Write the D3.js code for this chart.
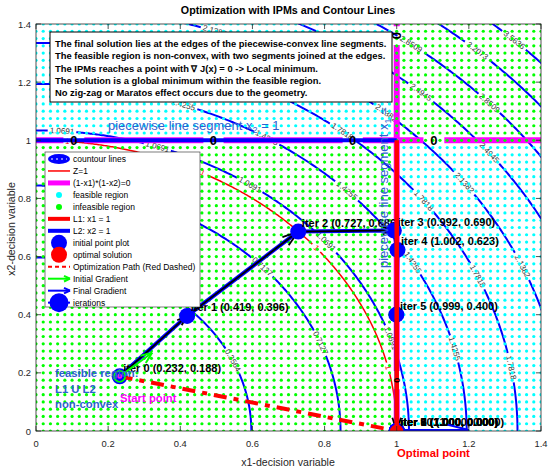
<!DOCTYPE html>
<html><head><meta charset="utf-8">
<script src="https://cdn.jsdelivr.net/npm/d3@7"></script>
<style>body{margin:0;background:#fff} text{font-family:"Liberation Sans",Arial,Helvetica,sans-serif}</style>
</head><body><svg id="c" width="550" height="469"></svg>
<script>
// ---------------- data ----------------
const contourLevels = [0.3564, 0.7127, 1.0691, 1.4255, 1.7818, 2.1382, 2.4945, 2.8509, 3.2073, 3.5636];
const contourLabelAngles = [[24,56],[63,42,21],[86,71,55,39,18],[84,70,57.6,43.8,29,13.7],[64,50.5,36.4,23.5,9.4],[70.2,59,48.4,35.7,22.8],[58,47.5,37.3],[52,41.9],[46.9],[45.4]];
const zLevel = 1;
const zLabelAngles = [85, 62.5, 39, 12.6];
const boundaryLabelsX2 = [0.105, 0.492, 0.878, 1.103];   // "0" labels on x2 = 1
const boundaryLabelsX1 = [1.36, 0.175];                  // "0" labels on x1 = 1
const iterX = [0.232, 0.419, 0.727, 0.992, 1.002, 0.999, 1.000, 1.000, 1.000, 1.000, 1.000];
const iterY = [0.188, 0.396, 0.686, 0.690, 0.623, 0.400, 0.000, 0.000, 0.000, 0.000, 0.000];
const startPoint = [0.232, 0.188];
const optimalPoint = [1.0, 0.0];
const initialGradient = [0.232, 0.188, 0.322, 0.269];
const finalGradient = [1.0, 0.0, 1.2, 0.0];
const xTicks = [0, 0.2, 0.4, 0.6, 0.8, 1, 1.2, 1.4];
const yTicks = [0, 0.2, 0.4, 0.6, 0.8, 1, 1.2, 1.4];
const xTickLabels = ["0","0.2","0.4","0.6","0.8","1","1.2","1.4"];
const yTickLabels = ["0","0.2","0.4","0.6","0.8","1","1.2","1.4"];
const legendLabels = ["countour lines","Z=1","(1-x1)*(1-x2)=0","feasible region","infeasible region","L1: x1 = 1","L2: x2 = 1","initial point plot","optimal solution","Optimization Path (Red Dashed)","Initial Gradient","Final Gradient","ierations"];
const noteLines = ["The final solution lies at the edges of the piecewise-convex line segments.",
 "The feasible region is non-convex, with two segments joined at the edges.",
 "The IPMs reaches a point with \u2207 J(x) = 0 -> Local minimum.",
 "The solution is a global minimum within the feasible region.",
 "No zig-zag or Maratos effect occurs due to the geometry."];
const regionNote = ["feasible region:", "L1 U L2", "non-convex"];
const titleText = "Optimization with IPMs and Contour Lines";

// ---------------- setup ----------------
const svg = d3.select('#c');
const L=36, R=541, T=24, B=431;
const x = d3.scaleLinear().domain([0,1.4]).range([L,R]);
const y = d3.scaleLinear().domain([0,1.4]).range([B,T]);
const kx = (R-L)/1.4, ky = (B-T)/1.4;
svg.append('defs').append('clipPath').attr('id','clip').append('rect')
  .attr('x',L).attr('y',T).attr('width',R-L).attr('height',B-T);
const plot = svg.append('g').attr('clip-path','url(#clip)');
const rad = Math.PI/180;
const lineGen = d3.line().x(d=>x(d[0])).y(d=>y(d[1])).defined(d=>d[2]);
const fmt4 = d3.format('.4f'), fmt3 = d3.format('.3f');

function arcWithLabels(level, angles, gap){
  const r = Math.sqrt(level);
  const labs = angles.map(a=>{const t=a*rad; return {px:x(r*Math.cos(t)), py:y(r*Math.sin(t)),
     rot:Math.atan2(ky*Math.cos(t), kx*Math.sin(t))/rad};});
  const pts = d3.range(0,90.01,0.2).map(a=>{const t=a*rad; const u=r*Math.cos(t), v=r*Math.sin(t);
     return [u,v,labs.every(l=>Math.hypot(x(u)-l.px,y(v)-l.py)>gap)];});
  return {pts, labs};
}

// contours of J
contourLevels.forEach((lev,i)=>{
  const {pts,labs} = arcWithLabels(lev, contourLabelAngles[i], 14);
  plot.append('path').attr('d',lineGen(pts)).attr('fill','none').attr('stroke','#0000ff').attr('stroke-width',2);
  labs.forEach(l=>plot.append('text').attr('transform',`translate(${l.px},${l.py}) rotate(${l.rot})`)
    .attr('text-anchor','middle').attr('dominant-baseline','central').attr('font-size',8).attr('fill','#333').text(fmt4(lev)));
});
// Z = 1
{
  const {pts,labs} = arcWithLabels(zLevel, zLabelAngles, 5);
  plot.append('path').attr('d',lineGen(pts)).attr('fill','none').attr('stroke','#ff0000').attr('stroke-width',1.5);
  labs.forEach(l=>plot.append('text').attr('transform',`translate(${l.px},${l.py}) rotate(${l.rot})`)
    .attr('text-anchor','middle').attr('dominant-baseline','central').attr('font-size',8).attr('fill','#ff0000').text(String(zLevel)));
}
// (1-x1)(1-x2)=0 boundary lines (magenta)
{
  const hp = d3.range(0,1.4001,0.002).map(u=>[u,1,boundaryLabelsX2.every(b=>Math.abs(x(u)-x(b))>10)]);
  const vp = d3.range(0,1.4001,0.002).map(v=>[1,v,boundaryLabelsX1.every(b=>Math.abs(y(v)-y(b))>9)]);
  [hp,vp].forEach(p=>plot.append('path').attr('d',lineGen(p)).attr('fill','none').attr('stroke','#ff00ff').attr('stroke-width',6));
}
// feasible / infeasible dots
{
  const gx = d3.range(0,1.4001,0.02), gy = d3.range(0,1.4001,0.025);
  const g = plot.append('g');
  gy.forEach(v=>gx.forEach(u=>{
    const feas = (1-u)*(1-v) < 0;
    g.append('circle').attr('cx',x(u)).attr('cy',y(v)).attr('r',1.6).attr('fill',feas?'#00ffff':'#00ff00');
  }));
}
// blue L2 line
plot.append('line').attr('x1',x(0)).attr('x2',x(1)).attr('y1',y(1)).attr('y2',y(1)).attr('stroke','#0000ff').attr('stroke-width',4);

// arrow helper
function arrow(g, x0,y0,x1,y1,color,w,ratio,ang){
  g.append('line').attr('x1',x0).attr('y1',y0).attr('x2',x1).attr('y2',y1).attr('stroke',color).attr('stroke-width',w);
  const len = Math.hypot(x1-x0,y1-y0)*ratio, a=Math.atan2(y1-y0,x1-x0);
  [-ang,ang].forEach(s=>g.append('line').attr('x1',x1).attr('y1',y1)
    .attr('x2',x1-len*Math.cos(a+s*rad)).attr('y2',y1-len*Math.sin(a+s*rad)).attr('stroke',color).attr('stroke-width',w));
}

// iterations path
const iterPts = iterX.map((v,i)=>[v,iterY[i]]);
plot.append('path').attr('d',d3.line().x(d=>x(d[0])).y(d=>y(d[1]))(iterPts)).attr('fill','none').attr('stroke','#0000ff').attr('stroke-width',4);
const ag = plot.append('g');
for(let i=0;i<iterPts.length-1;i++){
  const a=iterPts[i], b=iterPts[i+1];
  if(a[0]===b[0]&&a[1]===b[1]) continue;
  arrow(ag,x(a[0]),y(a[1]),x(b[0]),y(b[1]),'#000',1.8,0.12,18);
}
const tg = svg.append('g');
iterPts.forEach((p,i)=>{
  plot.append('circle').attr('cx',x(p[0])).attr('cy',y(p[1])).attr('r',8).attr('fill','#0000ff');
  plot.append('text').attr('x',x(p[0]+0.01)).attr('y',y(p[1]+0.03)).attr('dominant-baseline','central')
    .attr('font-size',11).attr('font-weight','bold').attr('fill','#000')
    .text(`iter ${i} (${fmt3(p[0])}, ${fmt3(p[1])})`);
});
// red L1 line
plot.append('line').attr('x1',x(1)).attr('x2',x(1)).attr('y1',y(0)).attr('y2',y(1)).attr('stroke','#ff0000').attr('stroke-width',4.5);
// boundary labels "0"
boundaryLabelsX2.forEach(b=>plot.append('text').attr('x',x(b)).attr('y',y(1)).attr('text-anchor','middle').attr('dominant-baseline','central')
  .attr('font-size',13).attr('font-weight','bold').attr('fill','#000').text('0'));
boundaryLabelsX1.forEach((b,i)=>plot.append('text').attr('transform',`translate(${x(1)},${y(b)}) rotate(-90)`).attr('text-anchor','middle').attr('dominant-baseline','central')
  .attr('font-size',i===0?13:9).attr('font-weight','bold').attr('fill','#000').text('0'));

// optimization path (red dashed)
plot.append('line').attr('x1',x(startPoint[0])).attr('y1',y(startPoint[1])).attr('x2',x(optimalPoint[0])).attr('y2',y(optimalPoint[1]))
  .attr('stroke','#ff0000').attr('stroke-width',4).attr('stroke-dasharray','13,7,5,7');
// gradients
arrow(plot, x(initialGradient[0]),y(initialGradient[1]),x(initialGradient[2]),y(initialGradient[3]),'#00ff00',2,0.3,22);
arrow(plot, x(finalGradient[0]),y(finalGradient[1])-1,x(finalGradient[2]),y(finalGradient[3])-1,'#0000ff',2,0.3,14);
// start point decorations
plot.append('circle').attr('cx',x(startPoint[0])).attr('cy',y(startPoint[1])).attr('r',5.5).attr('fill','#0000ff').attr('stroke','#00ff00').attr('stroke-width',1.8);
plot.append('circle').attr('cx',x(startPoint[0])).attr('cy',y(startPoint[1])).attr('r',2.5).attr('fill','#ff00ff');
// optimal point
plot.append('circle').attr('cx',x(optimalPoint[0])).attr('cy',y(optimalPoint[1])).attr('r',6.5).attr('fill','#ff0000');

// axes box and ticks
const axc = '#262626';
svg.append('rect').attr('x',L).attr('y',T).attr('width',R-L).attr('height',B-T).attr('fill','none').attr('stroke',axc).attr('stroke-width',0.8);
xTicks.forEach((t,i)=>{
  svg.append('line').attr('x1',x(t)).attr('x2',x(t)).attr('y1',B).attr('y2',B-5).attr('stroke',axc).attr('stroke-width',0.8);
  svg.append('line').attr('x1',x(t)).attr('x2',x(t)).attr('y1',T).attr('y2',T+5).attr('stroke',axc).attr('stroke-width',0.8);
  svg.append('text').attr('x',x(t)).attr('y',B+16).attr('text-anchor','middle').attr('font-size',9.4).attr('fill',axc).text(xTickLabels[i]);
});
yTicks.forEach((t,i)=>{
  svg.append('line').attr('x1',L).attr('x2',L+5).attr('y1',y(t)).attr('y2',y(t)).attr('stroke',axc).attr('stroke-width',0.8);
  svg.append('line').attr('x1',R).attr('x2',R-5).attr('y1',y(t)).attr('y2',y(t)).attr('stroke',axc).attr('stroke-width',0.8);
  svg.append('text').attr('x',L-5).attr('y',y(t)).attr('text-anchor','end').attr('dominant-baseline','central').attr('font-size',9.4).attr('fill',axc).text(yTickLabels[i]);
});
svg.append('text').attr('x',288).attr('y',466).attr('text-anchor','middle').attr('font-size',10.6).attr('fill',axc).text('x1-decision variable');
svg.append('text').attr('transform','translate(15,229) rotate(-90)').attr('text-anchor','middle').attr('font-size',10.6).attr('fill',axc).text('x2-decision variable');
svg.append('text').attr('x',288).attr('y',14).attr('text-anchor','middle').attr('font-size',10.7).attr('font-weight','bold').attr('fill','#000').text(titleText);

// annotations
const annBlue = '#2f5fd0';
{
  const t = svg.append('text').attr('x',108).attr('y',130).attr('font-size',13).attr('fill',annBlue);
  t.append('tspan').text('piecewise line segment x');
  t.append('tspan').attr('font-size',9).attr('dy',3).text('2');
  t.append('tspan').attr('dy',-3).text(' = 1');
  const v = svg.append('text').attr('transform','translate(388,268) rotate(-90)').attr('font-size',13).attr('fill',annBlue);
  v.append('tspan').text('piecewise line segment x');
  v.append('tspan').attr('font-size',9).attr('dy',3).text('1');
  v.append('tspan').attr('dy',-3).text(' = 1');
}
regionNote.forEach((s,i)=>svg.append('text').attr('x',55).attr('y',377+i*15.5).attr('font-size',11.3).attr('font-weight','bold').attr('fill',annBlue).text(s));
svg.append('text').attr('x',120).attr('y',402).attr('font-size',11.3).attr('font-weight','bold').attr('fill','#ff00ff').text('Start point');
svg.append('text').attr('x',397).attr('y',457).attr('font-size',11.3).attr('font-weight','bold').attr('fill','#ff0000').text('Optimal point');

// note box
svg.append('rect').attr('x',50).attr('y',32).attr('width',342).attr('height',70).attr('fill','#fff').attr('stroke','#000').attr('stroke-width',1);
noteLines.forEach((s,i)=>svg.append('text').attr('x',55).attr('y',47+i*12.3).attr('font-size',9.4).attr('font-weight','bold').attr('fill','#000').text(s));

// legend
{
  const lg = svg.append('g');
  lg.append('rect').attr('x',45).attr('y',152).attr('width',155).attr('height',155).attr('fill','#fff').attr('stroke','#262626').attr('stroke-width',0.6);
  const y0=159, dy=11.97, ix0=48, ix1=70, cx=59;
  legendLabels.forEach((s,i)=>{
    const yy=y0+i*dy;
    lg.append('text').attr('x',73).attr('y',yy).attr('dominant-baseline','central').attr('font-size',8.5).attr('fill','#000').text(s);
    const ln=(c,w,da)=>{const e=lg.append('line').attr('x1',ix0).attr('x2',ix1).attr('y1',yy).attr('y2',yy).attr('stroke',c).attr('stroke-width',w); if(da) e.attr('stroke-dasharray',da);};
    const dot=(c,r)=>lg.append('circle').attr('cx',cx).attr('cy',yy).attr('r',r).attr('fill',c);
    if(i===0){ lg.append('ellipse').attr('cx',cx).attr('cy',yy).attr('rx',11).attr('ry',5).attr('fill','#0000ff');
      lg.append('line').attr('x1',51).attr('x2',67).attr('y1',yy).attr('y2',yy).attr('stroke','#fff').attr('stroke-width',1).attr('stroke-dasharray','2,3'); }
    if(i===1) ln('#ff0000',1.5);
    if(i===2) ln('#ff00ff',5);
    if(i===3) dot('#00ffff',3);
    if(i===4) dot('#00ff00',3);
    if(i===5) ln('#ff0000',4);
    if(i===6) ln('#0000ff',4);
    if(i===7) dot('#0000ff',8);
    if(i===8) dot('#ff0000',8);
    if(i===9) ln('#ff0000',2,'4,3');
    if(i===10) arrow(lg,ix0,yy,ix1,yy,'#00ff00',2,0.3,25);
    if(i===11) arrow(lg,ix0,yy,ix1,yy,'#0000ff',2,0.3,25);
    if(i===12){ ln('#0000ff',2); dot('#0000ff',9.5); }
  });
}
</script></body></html>
